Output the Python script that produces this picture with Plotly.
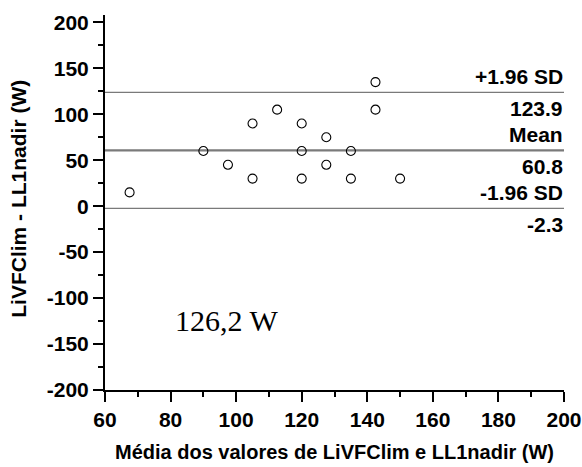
import plotly.graph_objects as go

# Bland-Altman data: mean of the two methods (x) and their difference (y)
media = [67.5, 90, 97.5, 105, 105, 112.5, 120, 120, 120, 127.5, 127.5, 135, 135, 142.5, 142.5, 150]
diferenca = [15, 60, 45, 90, 30, 105, 90, 60, 30, 75, 45, 60, 30, 135, 105, 30]

# Agreement limits
limit_names = ["+1.96 SD", "Mean", "-1.96 SD"]
limit_values = [123.9, 60.8, -2.3]
limit_widths = [1.3, 2.2, 1.3]

x_ticks = [60, 80, 100, 120, 140, 160, 180, 200]
y_ticks = [-200, -150, -100, -50, 0, 50, 100, 150, 200]

bold_font = dict(family="Liberation Sans, Arial, sans-serif", size=20, color="black")
tick_font = dict(bold_font, size=21)

fig = go.Figure()

fig.add_trace(go.Scatter(
    x=media, y=diferenca, mode="markers",
    marker=dict(symbol="circle-open", size=9, color="black", line=dict(width=1.1, color="black")),
    showlegend=False, cliponaxis=False,
))

for name, val, w in zip(limit_names, limit_values, limit_widths):
    fig.add_shape(type="line", xref="x", yref="y", x0=60, x1=200, y0=val, y1=val,
                  line=dict(color="#7a7a7a", width=w), layer="below")
    fig.add_annotation(xref="paper", yref="y", x=1, y=val, text="<b>%s</b>" % name,
                       showarrow=False, xanchor="right", yanchor="middle", yshift=16, xshift=1,
                       font=tick_font)
    fig.add_annotation(xref="paper", yref="y", x=1, y=val, text="<b>%.1f</b>" % val,
                       showarrow=False, xanchor="right", yanchor="middle", yshift=-16, xshift=1,
                       font=tick_font)

fig.add_annotation(xref="x", yref="y", x=97, y=-124.6, text="126,2 W", showarrow=False,
                   xanchor="center", yanchor="middle",
                   font=dict(family="Liberation Serif, Times New Roman, serif", size=30, color="black"))

# Vertical axis title placed as a rotated annotation left of the tick labels
fig.add_annotation(xref="paper", yref="paper", x=0, y=0.51, xshift=-86,
                   text="<b>LiVFClim - LL1nadir (W)</b>", textangle=-90, showarrow=False,
                   xanchor="center", yanchor="middle", font=dict(bold_font, size=21))

axis_common = dict(
    showgrid=False, zeroline=False, showline=True, linecolor="black", linewidth=2,
    ticks="outside", ticklen=10, tickwidth=2, tickcolor="black",
    tickfont=tick_font, automargin=False,
)

fig.update_xaxes(
    range=[60, 200], tickvals=x_ticks, ticktext=["<b>%d</b>" % v for v in x_ticks],
    title=dict(text="<b>Média dos valores de LiVFClim e LL1nadir (W)</b>", font=bold_font),
    minor=dict(ticks="outside", ticklen=5, tickwidth=1.5, tickcolor="black", dtick=10, tick0=60),
    **axis_common,
)
fig.update_yaxes(
    range=[-200, 208], tickvals=y_ticks, ticktext=["<b>%d</b>" % v for v in y_ticks],
    minor=dict(ticks="outside", ticklen=5, tickwidth=1.5, tickcolor="black", dtick=25, tick0=0),
    **axis_common,
)

fig.update_layout(
    width=582, height=467,
    margin=dict(l=105, r=18, t=15, b=77),
    plot_bgcolor="white", paper_bgcolor="white",
)

fig.write_html("out.html")
